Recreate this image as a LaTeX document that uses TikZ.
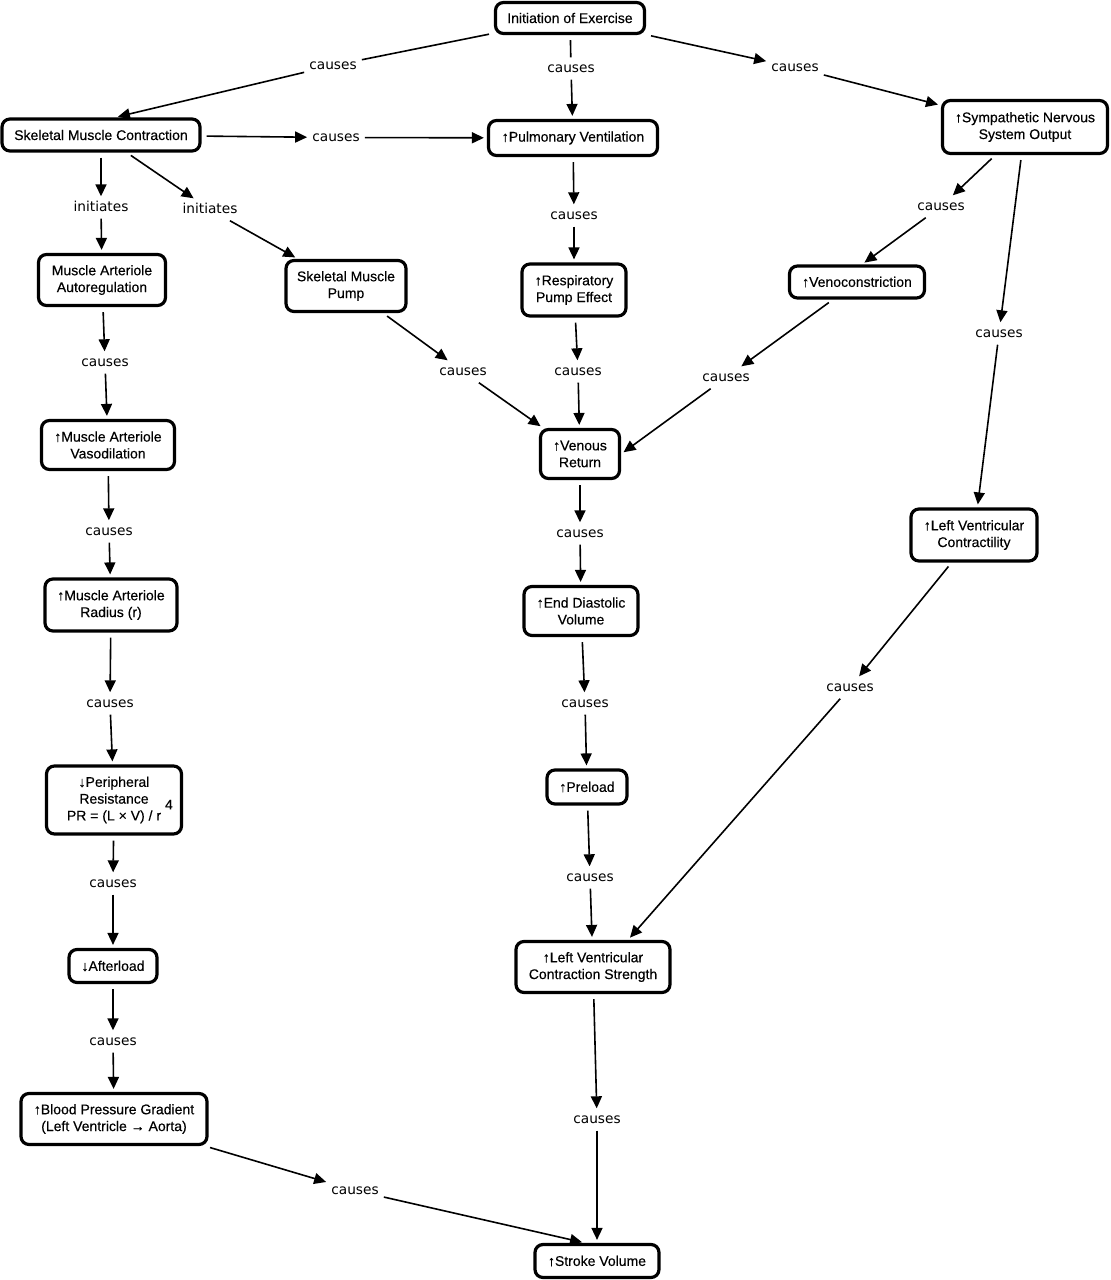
\documentclass[tikz,border=0pt]{standalone}
\usepackage{fontspec}
\setmainfont{Liberation Sans}[UprightFeatures={FakeBold=0.35}]
\newfontfamily\lblfont{DejaVu Sans}
\usetikzlibrary{arrows.meta}
\begin{document}
\begin{tikzpicture}[x=1pt,y=-1pt,
  cbox/.style={draw, line width=3.2pt, rounded corners=8pt, align=center,
    font=\fontsize{14}{16.8}\selectfont, inner sep=2pt, fill=white},
  lbl/.style={font=\lblfont\fontsize{13.7}{16}\selectfont, text height=10pt,
    text depth=3pt, inner xsep=5pt, inner ysep=4.5pt, yshift=-1.5pt},
  conn/.style={line width=1.6pt, -{Triangle[length=12pt,width=11pt]}},
  plainc/.style={line width=1.6pt, shorten <=5pt},
  n2l/.style={conn, shorten <=5pt},
  l2n/.style={conn, shorten >=3pt},
]
\useasboundingbox (0,0) rectangle (1111,1280);
\fill[white] (0,0) rectangle (1111,1280);

% concepts
\node[cbox, minimum width=149, minimum height=31] (init) at (570,18) {Initiation of Exercise};
\node[cbox, minimum width=198, minimum height=32] (smc) at (101,135) {Skeletal Muscle Contraction};
\node[cbox, minimum width=169, minimum height=35] (pv) at (573,138) {↑Pulmonary Ventilation};
\node[cbox, minimum width=165, minimum height=53] (sns) at (1025,127) {↑Sympathetic Nervous\\System Output};
\node[cbox, minimum width=127, minimum height=51] (maa) at (102,280) {Muscle Arteriole\\Autoregulation};
\node[cbox, minimum width=120, minimum height=51] (smp) at (346,286) {Skeletal Muscle\\Pump};
\node[cbox, minimum width=104, minimum height=52] (rpe) at (574,290) {↑Respiratory\\Pump Effect};
\node[cbox, minimum width=135, minimum height=32] (veno) at (857,282) {↑Venoconstriction};
\node[cbox, minimum width=133, minimum height=49] (mav) at (108,445) {↑Muscle Arteriole\\Vasodilation};
\node[cbox, minimum width=79, minimum height=49] (vr) at (580,454) {↑Venous\\Return};
\node[cbox, minimum width=126, minimum height=52] (lvc) at (974,535) {↑Left Ventricular\\Contractility};
\node[cbox, minimum width=132, minimum height=52] (rad) at (111,605) {↑Muscle Arteriole\\Radius (r)};
\node[cbox, minimum width=114, minimum height=49] (edv) at (581,611) {↑End Diastolic\\Volume};
\node[cbox, minimum width=135, minimum height=68] (pr) at (114,800) {↓Peripheral\\Resistance\\PR = (L × V) / r\rlap{\hspace{4pt}\raisebox{11pt}[0pt][0pt]{4}}};
\node[cbox, minimum width=80, minimum height=34] (pre) at (587,787) {↑Preload};
\node[cbox, minimum width=88, minimum height=33] (aft) at (113,966) {↓Afterload};
\node[cbox, minimum width=154, minimum height=51] (lvcs) at (593,967) {↑Left Ventricular\\Contraction Strength};
\node[cbox, minimum width=186, minimum height=51] (bpg) at (114,1119) {↑Blood Pressure Gradient\\(Left Ventricle → Aorta)};
\node[cbox, minimum width=124, minimum height=33] (sv) at (597,1261) {↑Stroke Volume};

% linking phrases
\node[lbl] (l1) at (333,64) {causes};
\node[lbl] (l2) at (571,67) {causes};
\node[lbl] (l3) at (795,66) {causes};
\node[lbl] (l4) at (336,136) {causes};
\node[lbl] (l5) at (101,206) {initiates};
\node[lbl] (l6) at (210,208) {initiates};
\node[lbl] (l7) at (574,214) {causes};
\node[lbl] (l8) at (941,205) {causes};
\node[lbl] (l9) at (999,332) {causes};
\node[lbl] (l10) at (105,361) {causes};
\node[lbl] (l11) at (463,370) {causes};
\node[lbl] (l12) at (578,370) {causes};
\node[lbl] (l13) at (726,376) {causes};
\node[lbl] (l14) at (109,530) {causes};
\node[lbl] (l15) at (580,532) {causes};
\node[lbl] (l16) at (110,702) {causes};
\node[lbl] (l17) at (585,702) {causes};
\node[lbl] (l18) at (850,686) {causes};
\node[lbl] (l19) at (113,882) {causes};
\node[lbl] (l20) at (590,876) {causes};
\node[lbl] (l21) at (113,1040) {causes};
\node[lbl] (l22) at (597,1118) {causes};
\node[lbl] (l23) at (355,1189) {causes};

% connectors
\draw[plainc] (init) -- (l1);
\draw[l2n] (l1) -- ([xshift=14pt]smc.north);
\draw[plainc] (init) -- (l2);
\draw[l2n] (l2) -- (pv);
\draw[n2l] (init) -- (l3);
\draw[l2n] (l3) -- (sns);
\draw[n2l] (smc) -- (l4);
\draw[l2n] (l4) -- (pv);
\draw[n2l] (smc) -- (l5);
\draw[l2n] (l5) -- (maa);
\draw[n2l] (smc) -- (l6);
\draw[l2n] (l6) -- (smp);
\draw[n2l] (pv) -- (l7);
\draw[l2n] (l7) -- (rpe);
\draw[n2l] (sns) -- (l8);
\draw[l2n] (l8) -- ([xshift=5pt]veno.north);
\draw[n2l] (sns) -- (l9);
\draw[l2n] (l9) -- (lvc);
\draw[n2l] (maa) -- (l10);
\draw[l2n] (l10) -- (mav);
\draw[n2l] (smp) -- (l11);
\draw[l2n] (l11) -- (vr);
\draw[n2l] (rpe) -- (l12);
\draw[l2n] (l12) -- (vr);
\draw[n2l] (veno) -- (l13);
\draw[l2n] (l13) -- (vr.east);
\draw[n2l] (mav) -- (l14);
\draw[l2n] (l14) -- (rad);
\draw[n2l] (vr) -- (l15);
\draw[l2n] (l15) -- (edv);
\draw[n2l] (rad) -- (l16);
\draw[l2n] (l16) -- (pr);
\draw[n2l] (edv) -- (l17);
\draw[l2n] (l17) -- (pre);
\draw[n2l] (lvc) -- (l18);
\draw[l2n] (l18) -- ([xshift=35pt]lvcs.north);
\draw[n2l] (pr) -- (l19);
\draw[l2n] (l19) -- (aft);
\draw[n2l] (pre) -- (l20);
\draw[l2n] (l20) -- (lvcs);
\draw[n2l] (aft) -- (l21);
\draw[l2n] (l21) -- (bpg);
\draw[n2l] (lvcs) -- (l22);
\draw[l2n] (l22) -- (sv);
\draw[n2l] (bpg) -- (l23);
\draw[l2n] (l23) -- ([xshift=-12pt]sv.north);
\end{tikzpicture}
\end{document}
